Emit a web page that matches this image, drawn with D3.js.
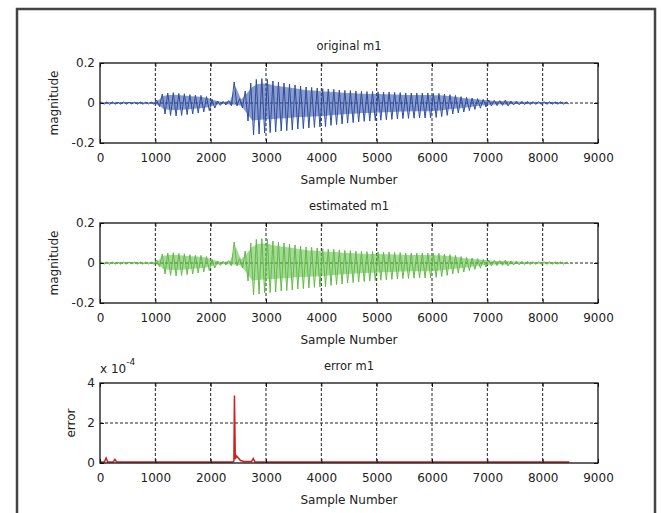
<!DOCTYPE html>
<html>
<head>
<meta charset="utf-8">
<script src="https://cdn.jsdelivr.net/npm/d3@7"></script>
<style>
body { margin: 0; background: #fff; }
svg text { font-family: "DejaVu Sans", sans-serif; fill: #222; }
</style>
</head>
<body>
<script>
// x axis
var sampleTicks = [0, 1000, 2000, 3000, 4000, 5000, 6000, 7000, 8000, 9000];
var sampleDomain = [0, 9000];
var binSize = 100;   // one max/min pair per 100 samples

// envelope of m1 per 100-sample bin, in units of 0.001
var originalMax = [
  5, 6, 5, 4, 5, 4, 4, 5, 4, 5,
  15, 45, 50, 52, 48, 46, 42, 40, 38, 32,
  18, 10, 8, 12, 105, 22, 60, 100, 118, 122,
  118, 110, 105, 100, 95, 90, 85, 80, 78, 75,
  72, 70, 68, 65, 63, 62, 60, 58, 57, 57,
  56, 55, 55, 53, 52, 50, 50, 50, 50, 50,
  48, 48, 45, 42, 38, 32, 28, 25, 22, 18,
  15, 13, 12, 14, 10, 9, 8, 8, 7, 7,
  7, 6, 6, 6, 5
];
var originalMin = [
  -6, -7, -6, -6, -6, -5, -6, -6, -5, -6,
  -18, -55, -62, -65, -62, -58, -55, -50, -45, -38,
  -25, -12, -10, -14, -15, -25, -90, -160, -155, -150,
  -148, -145, -140, -138, -135, -130, -128, -125, -122, -120,
  -118, -112, -108, -105, -100, -98, -95, -92, -90, -88,
  -86, -84, -82, -80, -78, -77, -76, -75, -75, -74,
  -72, -68, -62, -55, -50, -45, -38, -32, -26, -20,
  -15, -13, -12, -15, -10, -9, -8, -8, -7, -7,
  -7, -6, -6, -6, -5
];
// the estimate differs from the original by less than 4e-4, so the same envelope
var estimatedMax = originalMax;
var estimatedMin = originalMin;

// error m1, in units of 1e-4
var errSamples = [0, 80, 110, 140, 240, 270, 300, 340, 2400, 2420, 2430, 2445, 2470, 2500, 2540, 2600, 2740, 2770, 2800, 2900, 8480];
var errValues  = [0.05, 0.05, 0.25, 0.05, 0.05, 0.18, 0.05, 0.05, 0.05, 0.1, 3.38, 0.2, 0.35, 0.25, 0.12, 0.08, 0.08, 0.22, 0.06, 0.05, 0.05];

var magTicks = [-0.2, 0, 0.2];
var magTickLabels = ['-0.2', '0', '0.2'];
var errTicks = [0, 2, 4];
var errTickLabels = ['0', '2', '4'];

var plotLeft = 100;
var plotRight = 598;
var plotHeight = 80;
var fontFamily = '"DejaVu Sans", sans-serif';

function envelopePoints(maxArr, minArr) {
    var pts = [];
    maxArr.forEach(function(v, i) {
	pts.push([i*binSize + binSize/4, v/1000]);
	pts.push([i*binSize + 3*binSize/4, minArr[i]/1000]);
    });
    return pts;
}

function envelopeBins(maxArr, minArr) {
    return maxArr.map(function(v, i) {
	return {s: i*binSize + binSize/2, hi: v/1000, lo: minArr[i]/1000};
    });
}

function drawPanel(svg, p) {
    var x = d3.scaleLinear().domain(sampleDomain).range([plotLeft, plotRight]);
    var y = d3.scaleLinear().domain(p.yDomain).range([p.top + plotHeight, p.top]);
    var bottom = p.top + plotHeight;
    var g = svg.append('g');

    // dotted grid
    g.selectAll('.vgrid')
	.data(sampleTicks.slice(1, -1))
	.enter().append('line')
	.attr('class', 'vgrid')
	.attr('x1', function(d) { return x(d); })
	.attr('x2', function(d) { return x(d); })
	.attr('y1', p.top)
	.attr('y2', bottom)
	.style('stroke', '#222')
	.style('stroke-dasharray', '3,2')
	.style('stroke-width', 1);
    g.selectAll('.hgrid')
	.data(p.yTicks.slice(1, -1))
	.enter().append('line')
	.attr('class', 'hgrid')
	.attr('x1', plotLeft)
	.attr('x2', plotRight)
	.attr('y1', function(d) { return y(d); })
	.attr('y2', function(d) { return y(d); })
	.style('stroke', '#222')
	.style('stroke-dasharray', '3,2')
	.style('stroke-width', 1);

    // shaded body of the waveform between its per-bin max and min
    if (p.bins) {
	g.append('path')
	    .datum(p.bins)
	    .attr('d', d3.area()
		  .x(function(d) { return x(d.s); })
		  .y0(function(d) { return y(d.lo*0.55); })
		  .y1(function(d) { return y(d.hi*0.8); }))
	    .style('fill', p.color)
	    .style('fill-opacity', 0.55);
    }

    g.append('path')
	.datum(p.points)
	.attr('d', d3.line()
	      .x(function(d) { return x(d[0]); })
	      .y(function(d) { return y(d[1]); }))
	.style('fill', 'none')
	.style('stroke', p.color)
	.style('stroke-width', p.lineWidth);

    g.append('rect')
	.attr('x', plotLeft)
	.attr('y', p.top)
	.attr('width', plotRight - plotLeft)
	.attr('height', plotHeight)
	.style('fill', 'none')
	.style('stroke', '#111')
	.style('stroke-width', 1.3);

    var xAxis = g.append('g')
	.attr('transform', 'translate(0,' + bottom + ')')
	.call(d3.axisBottom(x).tickValues(sampleTicks).tickSize(-4).tickSizeOuter(0)
	      .tickPadding(10).tickFormat(d3.format('d')));
    var topAxis = g.append('g')
	.attr('transform', 'translate(0,' + p.top + ')')
	.call(d3.axisTop(x).tickValues(sampleTicks).tickSize(-4).tickSizeOuter(0).tickFormat(''));
    var yAxis = g.append('g')
	.attr('transform', 'translate(' + plotLeft + ',0)')
	.call(d3.axisLeft(y).tickValues(p.yTicks).tickSize(-4).tickSizeOuter(0).tickPadding(5)
	      .tickFormat(function(d, i) { return p.yTickLabels[i]; }));
    var rightAxis = g.append('g')
	.attr('transform', 'translate(' + plotRight + ',0)')
	.call(d3.axisRight(y).tickValues(p.yTicks).tickSize(-4).tickSizeOuter(0).tickFormat(''));

    [xAxis, topAxis, yAxis, rightAxis].forEach(function(a) {
	a.select('.domain').remove();
	a.attr('font-size', 12).attr('font-family', fontFamily);
	a.selectAll('line').style('stroke', '#111');
	a.selectAll('text').style('fill', '#222');
    });

    g.append('text')
	.attr('x', (plotLeft + plotRight)/2)
	.attr('y', p.top - 13)
	.attr('text-anchor', 'middle')
	.style('font-size', '11.5px')
	.text(p.title);

    g.append('text')
	.attr('x', (plotLeft + plotRight)/2)
	.attr('y', bottom + 41)
	.attr('text-anchor', 'middle')
	.style('font-size', '12px')
	.text('Sample Number');

    g.append('text')
	.attr('transform', 'translate(' + p.yLabelX + ',' + (p.top + plotHeight/2) + ') rotate(-90)')
	.attr('text-anchor', 'middle')
	.style('font-size', '12px')
	.text(p.yLabel);

    return g;
}

function main() {
    var svg = d3.select('body')
	.append('svg')
	.attr('width', 661)
	.attr('height', 513);

    svg.append('rect')
	.attr('x', 0).attr('y', 0)
	.attr('width', 661).attr('height', 513)
	.style('fill', '#fff');

    svg.append('rect')
	.attr('x', 17)
	.attr('y', 9)
	.attr('width', 638)
	.attr('height', 520)
	.style('fill', 'none')
	.style('stroke', '#444')
	.style('stroke-width', 2.5);

    drawPanel(svg, {
	top: 63, title: 'original m1', yLabel: 'magnitude', yLabelX: 58,
	yDomain: [-0.2, 0.2], yTicks: magTicks, yTickLabels: magTickLabels,
	points: envelopePoints(originalMax, originalMin),
	bins: envelopeBins(originalMax, originalMin),
	color: '#2d4da3', lineWidth: 1
    });

    drawPanel(svg, {
	top: 223, title: 'estimated m1', yLabel: 'magnitude', yLabelX: 58,
	yDomain: [-0.2, 0.2], yTicks: magTicks, yTickLabels: magTickLabels,
	points: envelopePoints(estimatedMax, estimatedMin),
	bins: envelopeBins(estimatedMax, estimatedMin),
	color: '#5fbb45', lineWidth: 1
    });

    var errPanel = drawPanel(svg, {
	top: 383, title: 'error m1', yLabel: 'error', yLabelX: 75,
	yDomain: [0, 4], yTicks: errTicks, yTickLabels: errTickLabels,
	points: errSamples.map(function(s, i) { return [s, errValues[i]]; }),
	color: '#cc2020', lineWidth: 1.5
    });

    // exponent of the error axis
    var expo = errPanel.append('text')
	.attr('x', plotLeft)
	.attr('y', 373)
	.style('font-size', '12px');
    expo.append('tspan').text('x 10');
    expo.append('tspan')
	.attr('dy', -8)
	.style('font-size', '9px')
	.text('-4');
}

main();
</script>
</body>
</html>
